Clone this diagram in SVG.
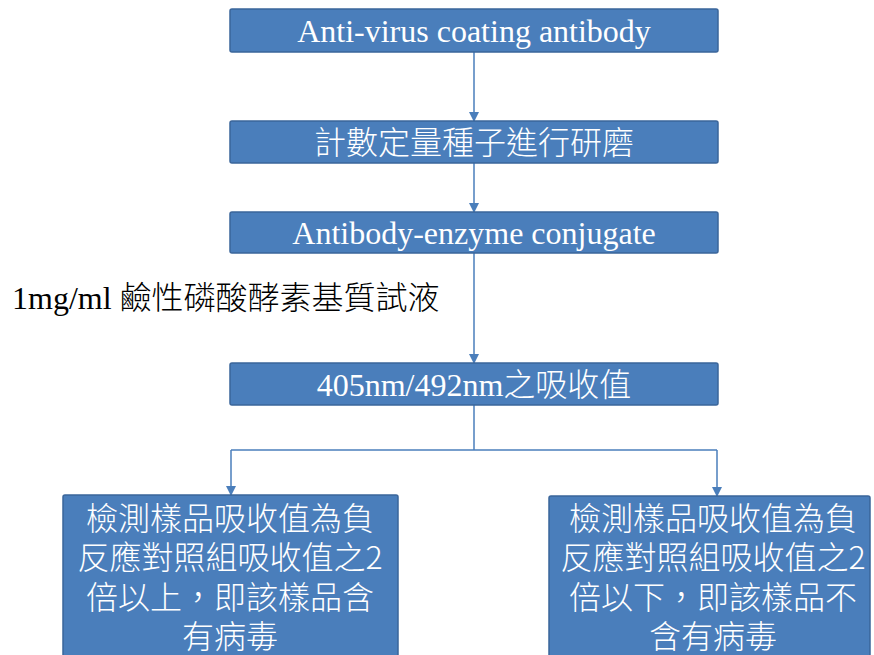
<svg xmlns="http://www.w3.org/2000/svg" width="874" height="655" viewBox="0 0 874 655">
<style>
.box{fill:#4a7ebb;stroke:#3a659a;stroke-width:1.5}
.t{font-family:"Liberation Serif","Noto Sans CJK TC",serif;font-size:32px;fill:#ffffff;text-anchor:middle}
.c{font-family:"Noto Sans CJK TC","Noto Sans CJK SC",sans-serif;font-weight:300}
.lbl{font-family:"Liberation Serif","Noto Sans CJK TC",serif;font-size:32px;fill:#000000}
.ln{stroke:#4a7ebb;stroke-width:1.5;fill:none}
</style>
<defs>
<marker id="ah" markerWidth="10" markerHeight="10" refX="9" refY="5" orient="auto" markerUnits="userSpaceOnUse">
<path d="M0,0 L10,5 L0,10 Z" fill="#4a7ebb"/>
</marker>
</defs>
<rect width="874" height="655" fill="#ffffff"/>
<g id="connectors">
<line class="ln" x1="474" y1="52" x2="474" y2="121" marker-end="url(#ah)"/>
<line class="ln" x1="474" y1="163" x2="474" y2="212" marker-end="url(#ah)"/>
<line class="ln" x1="474" y1="253" x2="474" y2="363" marker-end="url(#ah)"/>
<line class="ln" x1="474" y1="405" x2="474" y2="450"/>
<line class="ln" x1="231" y1="450" x2="717" y2="450"/>
<line class="ln" x1="231" y1="450" x2="231" y2="495" marker-end="url(#ah)"/>
<line class="ln" x1="717" y1="450" x2="717" y2="496" marker-end="url(#ah)"/>
</g>
<g id="n1">
<rect class="box" x="230" y="9" width="488" height="43" rx="2"/>
<text class="t" x="474" y="42">Anti-virus coating antibody</text>
</g>
<g id="n2">
<rect class="box" x="230" y="121" width="488" height="42" rx="2"/>
<text class="t c" x="474" y="154">計數定量種子進行研磨</text>
</g>
<g id="n3">
<rect class="box" x="230" y="212" width="488" height="41" rx="2"/>
<text class="t" x="474" y="244">Antibody-enzyme conjugate</text>
</g>
<g id="label">
<text class="lbl" x="12" y="309">1mg/ml <tspan class="c">鹼性磷酸酵素基質試液</tspan></text>
</g>
<g id="n4">
<rect class="box" x="230" y="363" width="488" height="42" rx="2"/>
<text class="t" x="474" y="396">405nm/492nm<tspan class="c">之吸收值</tspan></text>
</g>
<g id="n5">
<rect class="box" x="63" y="495" width="335" height="175" rx="2"/>
<text class="t c" x="230" y="530">檢測樣品吸收值為負</text>
<text class="t c" x="230" y="569">反應對照組吸收值之2</text>
<text class="t c" x="230" y="609">倍以上，即該樣品含</text>
<text class="t c" x="230" y="648">有病毒</text>
</g>
<g id="n6">
<rect class="box" x="549" y="496" width="321" height="175" rx="2"/>
<text class="t c" x="713" y="530">檢測樣品吸收值為負</text>
<text class="t c" x="713" y="569">反應對照組吸收值之2</text>
<text class="t c" x="713" y="609">倍以下，即該樣品不</text>
<text class="t c" x="713" y="648">含有病毒</text>
</g>
</svg>
